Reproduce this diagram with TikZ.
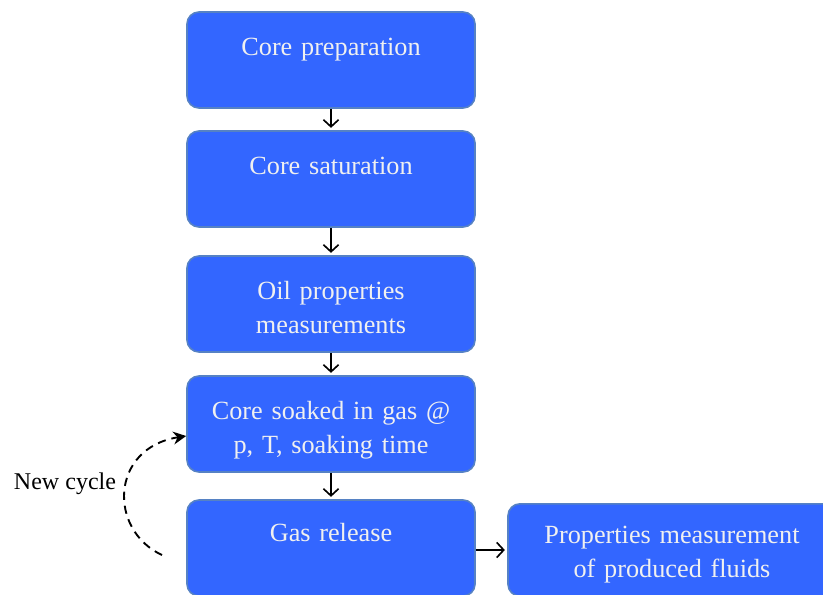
\documentclass[tikz,border=0pt]{standalone}
\usepackage{fontspec}
\setmainfont{Liberation Serif}
\usepackage{xcolor}
\usetikzlibrary{arrows.meta}

\definecolor{stepblue}{HTML}{3366FF}
\definecolor{stepedge}{HTML}{5682C4}

\begin{document}
\begin{tikzpicture}[x=0.03cm, y=-0.03cm,
  stepbox/.style={draw=stepedge, line width=1.4pt, fill=stepblue, rounded corners=0.36cm,
    text=white!94!black, inner sep=0pt, text width=8.64cm, align=center,
    text height=1.31cm, text depth=1.57cm, font=\fontsize{22.4}{29}\selectfont},
  flow/.style={line width=1.4pt, -{Straight Barb[length=6pt, width=13pt]}, shorten >=2pt}]

\useasboundingbox (0,0) rectangle (823,594);

% main column
\node[stepbox] (prep) at (331,60) {Core preparation};
\node[stepbox] (sat) at (331,179) {Core saturation};
\node[stepbox] (oil) at (331,304) {Oil properties\\measurements};
\node[stepbox] (soak) at (331,424) {Core soaked in gas @\\p, T, soaking time};
\node[stepbox, text height=1.25cm, text depth=1.63cm] (rel) at (331,548) {Gas release};

% side box
\node[stepbox, text width=9.84cm, text height=1.2cm] (meas) at (672,550) {Properties measurement\\of produced fluids};

\draw[flow] (prep) -- (sat);
\draw[flow] (sat) -- (oil);
\draw[flow] (oil) -- (soak);
\draw[flow] (soak) -- (rel);
\draw[flow] (rel.east |- meas.west) -- (meas.west);

% loop back
\coordinate (loop) at (162,555);
\draw[line width=1.6pt, dash pattern=on 7pt off 5pt, -{Stealth[length=11pt, width=11pt]}]
  (loop) .. controls (108,530) and (110,448) .. ([yshift=-0.36cm]soak.west);
\node[font=\fontsize{20.5}{25}\selectfont] (cyc) at (65,484) {New cycle};

\end{tikzpicture}
\end{document}
